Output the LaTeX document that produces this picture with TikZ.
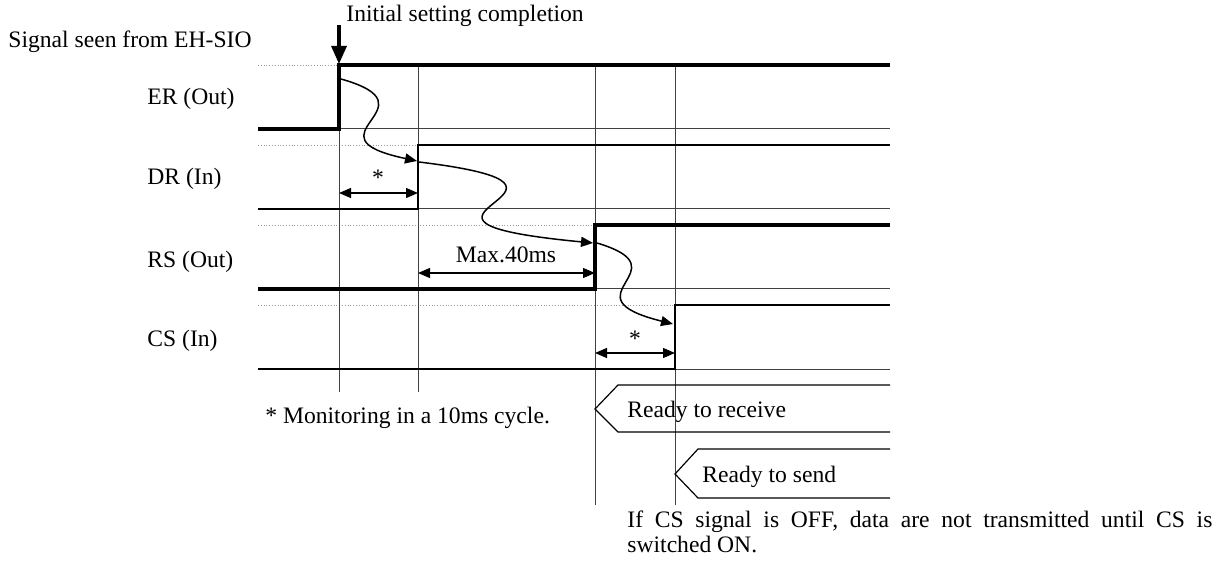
\documentclass[tikz,border=0pt]{standalone}
\usepackage{fontspec}
\setmainfont{Liberation Serif}
\usetikzlibrary{positioning, calc, arrows.meta}
\tikzset{
    every node/.style={font=\fontsize{11.8}{12.5}\selectfont, inner sep=0pt},
    sigthick/.style={line width=2pt},
    sigthin/.style={line width=1.3pt},
    gridline/.style={line width=0.5pt, black!75},
    guideline/.style={line width=0.4pt, black!40, densely dotted},
    wavearrow/.style={line width=0.75pt, -{Triangle[length=6pt,width=5pt]}},
    spanarrow/.style={line width=0.6pt, {Triangle[length=6pt,width=5pt]}-{Triangle[length=6pt,width=5pt]}},
    readybox/.style={line width=0.6pt}
}

\begin{document}
\begin{tikzpicture}[x=0.5pt, y=-0.5pt]
    \useasboundingbox (0,0) rectangle (1219,566);

    % Titles
    \node[anchor=base west] (title) at (8,48) {Signal seen from EH-SIO};
    \node[anchor=base west] (init) at (346,22) {Initial setting completion};

    % Signal names
    \node[anchor=base west] (er) at (147,105) {ER (Out)};
    \node[anchor=base west] (dr) at (147,185) {DR (In)};
    \node[anchor=base west] (rs) at (147,268) {RS (Out)};
    \node[anchor=base west] (cs) at (147,346) {CS (In)};

    % Dotted guides at the high level
    \draw[guideline] (258,65) -- (339,65);
    \draw[guideline] (258,145) -- (418,145);
    \draw[guideline] (258,225) -- (595,225);
    \draw[guideline] (258,305) -- (675,305);

    % Thin lines at the low level
    \foreach \y in {129,209,289,369}
        \draw[gridline] (258,\y) -- (890,\y);

    % Vertical time marks
    \draw[gridline] (339,65) -- (339,392);
    \draw[gridline] (418,65) -- (418,392);
    \draw[gridline] (595,65) -- (595,505);
    \draw[gridline] (675,65) -- (675,505);

    % Signals
    \draw[sigthick] (258,129) -- (339,129) -- (339,65) -- (890,65);
    \draw[sigthin] (258,209) -- (418,209) -- (418,145) -- (890,145);
    \draw[sigthick] (258,289) -- (595,289) -- (595,225) -- (890,225);
    \draw[sigthin] (258,369) -- (675,369) -- (675,305) -- (890,305);

    % Initial setting arrow
    \coordinate (er rise) at (339,64);
    \coordinate (init top) at (339,25);
    \draw[line width=1.6pt, -{Triangle[length=9pt,width=7.5pt]}] (init top) -- (er rise);

    % Wavy arrows
    \coordinate (w1a) at (341,79);
    \coordinate (w1b) at (417,161);
    \coordinate (w2a) at (419,162);
    \coordinate (w2b) at (593,243);
    \coordinate (w3a) at (597,243);
    \coordinate (w3b) at (673,324);
    \draw[wavearrow] (w1a) .. controls (440,107) and (300,136) .. (w1b);
    \draw[wavearrow] (w2a) .. controls (640,189) and (342,219) .. (w2b);
    \draw[wavearrow] (w3a) .. controls (687,270) and (561,296) .. (w3b);

    % Time spans
    \coordinate (s1a) at (339,193);
    \coordinate (s1b) at (418,193);
    \coordinate (s2a) at (418,273);
    \coordinate (s2b) at (595,273);
    \coordinate (s3a) at (595,353);
    \coordinate (s3b) at (675,353);
    \draw[spanarrow] (s1a) -- (s1b);
    \draw[spanarrow] (s2a) -- (s2b);
    \draw[spanarrow] (s3a) -- (s3b);
    \node[anchor=base] (star1) at (378,186) {*};
    \node[anchor=base] (maxms) at (506,263) {Max.40ms};
    \node[anchor=base] (star2) at (635,346) {*};

    % Note
    \node[anchor=base west] (monitor) at (265,423) {* Monitoring in a 10ms cycle.};

    % Ready to receive / send
    \draw[readybox] (890,385) -- (618,385) -- (595,409) -- (618,432) -- (890,432);
    \node[anchor=base west] (recv) at (627,417) {Ready to receive};
    \draw[readybox] (890,449) -- (698,449) -- (675,474) -- (698,498) -- (890,498);
    \node[anchor=base west] (send) at (702,482) {Ready to send};

    % Remark
    \node[anchor=north west, text width=292.5pt, align=justify,
          font=\fontsize{11.8}{12.5}\selectfont] (remark) at (627,510)
        {If CS signal is OFF, data are not transmitted until CS is\linebreak switched ON.};
\end{tikzpicture}
\end{document}
